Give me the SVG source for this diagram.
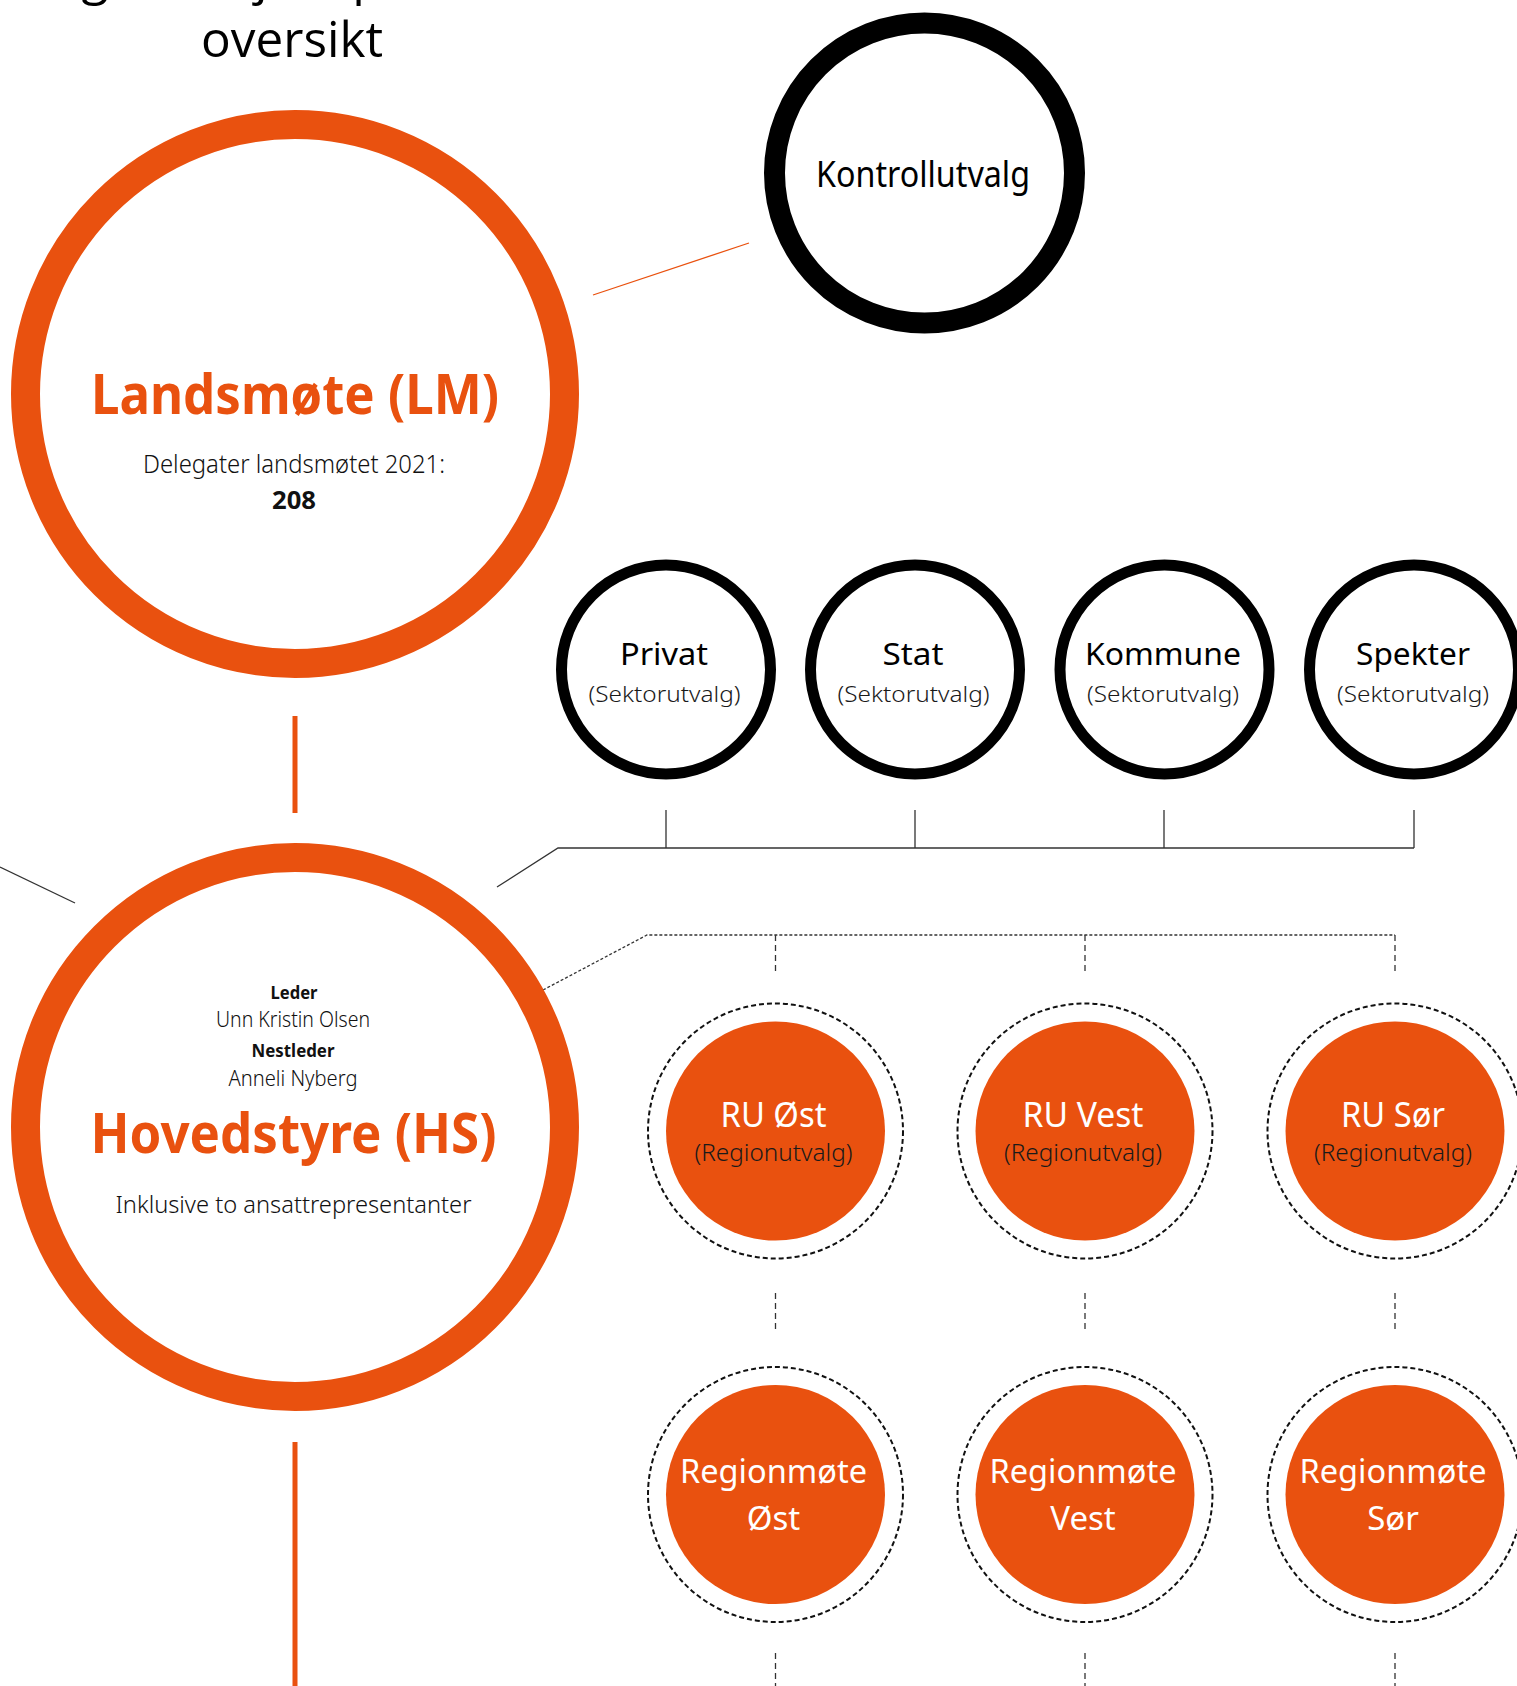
<svg xmlns="http://www.w3.org/2000/svg" width="1517" height="1686" viewBox="0 0 1517 1686">
<style>
text{font-family:"Noto Sans","Open Sans","Liberation Sans",sans-serif;text-anchor:middle}
.title{font-family:"Open Sans","Noto Sans",sans-serif;font-size:50px;fill:#000}
.big{fill:none;stroke:#E9510F;stroke-width:29}
.kc{fill:#fff;stroke:#000;stroke-width:21}
.sc{fill:#fff;stroke:#000;stroke-width:11}
.ring{fill:none;stroke:#111;stroke-width:2;stroke-dasharray:5 3}
.dot{fill:#E9510F}
.h{font-weight:700;fill:#E9510F}
.lt{font-weight:300;fill:#111}
.b{font-weight:700;fill:#111}
.w{fill:#fff}
.d{fill:#1a1a1a;font-weight:300}
.ln{fill:none;stroke:#333;stroke-width:1.3}
.dl{fill:none;stroke:#333;stroke-width:1.3;stroke-dasharray:3 2}
.dv{fill:none;stroke:#333;stroke-width:1.3;stroke-dasharray:6 4}
.ol{fill:none;stroke:#E9510F}
</style>
<rect width="1517" height="1686" fill="#fff"/>
<g id="title">
<text class="title" x="22" y="-6" style="text-anchor:start">Organisasjonsplan</text>
<text class="title" x="292" y="57" textLength="182" lengthAdjust="spacingAndGlyphs">oversikt</text>
</g>
<g id="connectors">
<line class="ol" stroke-width="1.3" x1="593" y1="295" x2="749" y2="243"/>
<line class="ol" stroke-width="5" x1="295" y1="716" x2="295" y2="813"/>
<line class="ol" stroke-width="5" x1="295" y1="1442" x2="295" y2="1686"/>
<line class="ln" x1="0" y1="867" x2="75" y2="903"/>
<path class="ln" d="M497,887 L558,848 H1414"/>
<path class="ln" d="M666,810 V848 M915,810 V848 M1164,810 V848 M1414,810 V848"/>
<path class="dl" d="M543,990 L647,935 H1395"/>
<path class="dv" d="M775.5,935 V972 M1085,935 V972 M1395,935 V972"/>
<path class="dv" d="M775.5,1293 V1332 M1085,1293 V1332 M1395,1293 V1332"/>
<path class="dv" d="M775.5,1653 V1686 M1085,1653 V1686 M1395,1653 V1686"/>
</g>
<g id="landsmote">
<circle class="big" cx="295" cy="394" r="269.5"/>
<text class="h" x="295" y="414" font-size="56" textLength="408" lengthAdjust="spacingAndGlyphs">Landsmøte (LM)</text>
<text class="lt" x="294" y="473" font-size="25" textLength="302" lengthAdjust="spacingAndGlyphs">Delegater landsmøtet 2021:</text>
<text class="b" x="294" y="509" font-size="25" textLength="44" lengthAdjust="spacingAndGlyphs">208</text>
</g>
<g id="kontrollutvalg">
<circle class="kc" cx="924.5" cy="173" r="150"/>
<text x="923" y="187" font-size="37" fill="#000" textLength="214" lengthAdjust="spacingAndGlyphs">Kontrollutvalg</text>
</g>
<g id="privat">
<circle class="sc" cx="666" cy="669.5" r="104.5"/>
<text x="664" y="665" font-size="31" fill="#000" textLength="88" lengthAdjust="spacingAndGlyphs">Privat</text>
<text class="d" x="664.5" y="701.5" font-size="22.5" textLength="152" lengthAdjust="spacingAndGlyphs">(Sektorutvalg)</text>
</g>
<g id="stat">
<circle class="sc" cx="915" cy="669.5" r="104.5"/>
<text x="913" y="665" font-size="31" fill="#000" textLength="61" lengthAdjust="spacingAndGlyphs">Stat</text>
<text class="d" x="913.5" y="701.5" font-size="22.5" textLength="152" lengthAdjust="spacingAndGlyphs">(Sektorutvalg)</text>
</g>
<g id="kommune">
<circle class="sc" cx="1164.5" cy="669.5" r="104.5"/>
<text x="1163" y="665" font-size="31" fill="#000" textLength="156" lengthAdjust="spacingAndGlyphs">Kommune</text>
<text class="d" x="1163" y="701.5" font-size="22.5" textLength="152" lengthAdjust="spacingAndGlyphs">(Sektorutvalg)</text>
</g>
<g id="spekter">
<circle class="sc" cx="1414" cy="669.5" r="104.5"/>
<text x="1413" y="665" font-size="31" fill="#000" textLength="114" lengthAdjust="spacingAndGlyphs">Spekter</text>
<text class="d" x="1413" y="701.5" font-size="22.5" textLength="152" lengthAdjust="spacingAndGlyphs">(Sektorutvalg)</text>
</g>
<g id="hovedstyre">
<circle class="big" cx="295" cy="1127" r="269.5"/>
<text class="b" x="294" y="999" font-size="18" textLength="47" lengthAdjust="spacingAndGlyphs">Leder</text>
<text class="lt" x="293" y="1027" font-size="21" textLength="154" lengthAdjust="spacingAndGlyphs">Unn Kristin Olsen</text>
<text class="b" x="293" y="1057" font-size="18" textLength="83" lengthAdjust="spacingAndGlyphs">Nestleder</text>
<text class="lt" x="293" y="1086" font-size="21" textLength="129" lengthAdjust="spacingAndGlyphs">Anneli Nyberg</text>
<text class="h" x="293.5" y="1153" font-size="55" textLength="406" lengthAdjust="spacingAndGlyphs">Hovedstyre (HS)</text>
<text class="lt" x="293.5" y="1213" font-size="24" textLength="356" lengthAdjust="spacingAndGlyphs">Inklusive to ansattrepresentanter</text>
</g>
<g id="ru-ost">
<circle class="ring" cx="775.5" cy="1131" r="127.5"/>
<circle class="dot" cx="775.5" cy="1131" r="109.5"/>
<text class="w" x="773.5" y="1127" font-size="34" textLength="106" lengthAdjust="spacingAndGlyphs">RU Øst</text>
<text class="d" x="773.5" y="1160.5" font-size="23.5" textLength="158" lengthAdjust="spacingAndGlyphs">(Regionutvalg)</text>
</g>
<g id="ru-vest">
<circle class="ring" cx="1085" cy="1131" r="127.5"/>
<circle class="dot" cx="1085" cy="1131" r="109.5"/>
<text class="w" x="1083" y="1127" font-size="34" textLength="121" lengthAdjust="spacingAndGlyphs">RU Vest</text>
<text class="d" x="1083" y="1160.5" font-size="23.5" textLength="158" lengthAdjust="spacingAndGlyphs">(Regionutvalg)</text>
</g>
<g id="ru-sor">
<circle class="ring" cx="1395" cy="1131" r="127.5"/>
<circle class="dot" cx="1395" cy="1131" r="109.5"/>
<text class="w" x="1393" y="1127" font-size="34" textLength="104" lengthAdjust="spacingAndGlyphs">RU Sør</text>
<text class="d" x="1393" y="1160.5" font-size="23.5" textLength="158" lengthAdjust="spacingAndGlyphs">(Regionutvalg)</text>
</g>
<g id="regionmote-ost">
<circle class="ring" cx="775.5" cy="1494.5" r="127.5"/>
<circle class="dot" cx="775.5" cy="1494.5" r="109.5"/>
<text class="w" x="773.5" y="1483" font-size="33" textLength="187" lengthAdjust="spacingAndGlyphs">Regionmøte</text>
<text class="w" x="773.5" y="1530" font-size="33">Øst</text>
</g>
<g id="regionmote-vest">
<circle class="ring" cx="1085" cy="1494.5" r="127.5"/>
<circle class="dot" cx="1085" cy="1494.5" r="109.5"/>
<text class="w" x="1083" y="1483" font-size="33" textLength="187" lengthAdjust="spacingAndGlyphs">Regionmøte</text>
<text class="w" x="1083" y="1530" font-size="33">Vest</text>
</g>
<g id="regionmote-sor">
<circle class="ring" cx="1395" cy="1494.5" r="127.5"/>
<circle class="dot" cx="1395" cy="1494.5" r="109.5"/>
<text class="w" x="1393" y="1483" font-size="33" textLength="187" lengthAdjust="spacingAndGlyphs">Regionmøte</text>
<text class="w" x="1393" y="1530" font-size="33">Sør</text>
</g>
</svg>
